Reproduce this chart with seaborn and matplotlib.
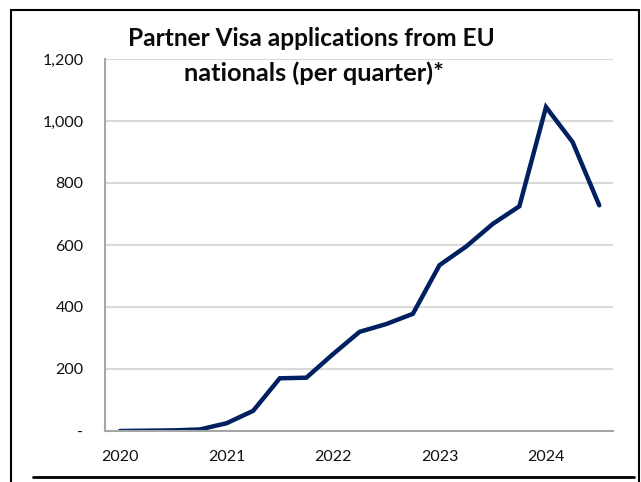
import matplotlib
matplotlib.use("Agg")
import matplotlib.pyplot as plt
import seaborn as sns
import pandas as pd
from matplotlib.lines import Line2D

# Data (quarterly, 2020 Q1 .. 2024 Q3)
years = [2020]*4 + [2021]*4 + [2022]*4 + [2023]*4 + [2024]*3
quarters = [1, 2, 3, 4]*4 + [1, 2, 3]
applications = [0, 1, 2, 5, 25, 65, 170, 172, 248, 320, 345, 378,
                535, 595, 668, 725, 1045, 932, 728]
year_ticks = [2020, 2021, 2022, 2023, 2024]
y_ticks = [0, 200, 400, 600, 800, 1000, 1200]
y_tick_labels = ["-", "200", "400", "600", "800", "1,000", "1,200"]
title_lines = ["Partner Visa applications from EU", "nationals (per quarter)*"]

df = pd.DataFrame({"year": years, "quarter": quarters, "applications": applications})
df["t"] = df["year"] + (df["quarter"] - 1) / 4

sns.set_theme(style="white")
plt.rcParams["font.family"] = ["Lato", "DejaVu Sans"]

W, H = 641, 482
fig = plt.figure(figsize=(W/100, H/100), dpi=100)
ax = fig.add_axes([105/W, 1-431/H, (613-105)/W, (431-59)/H])

sns.lineplot(data=df, x="t", y="applications", ax=ax, color="#002060",
             linewidth=3.2, solid_joinstyle="miter", solid_capstyle="round")

ax.set_xlim(2020 - 15/106.5, 2024 + 67/106.5)
ax.set_ylim(0, 1200)
ax.set_xticks(year_ticks)
ax.set_xticklabels([str(y) for y in year_ticks], fontsize=11.5, color="#111111")
ax.set_yticks(y_ticks)
ax.set_yticklabels(y_tick_labels, fontsize=11.5, color="#111111")
ax.tick_params(axis="both", length=0)
ax.tick_params(axis="y", pad=15.5)
ax.tick_params(axis="x", pad=13.5)
ax.set_xlabel("")
ax.set_ylabel("")
ax.yaxis.grid(True, color="#d9d9d9", linewidth=1.5)
ax.xaxis.grid(False)
ax.set_axisbelow(True)
for s in ["top", "right"]:
    ax.spines[s].set_visible(False)
for s in ["left", "bottom"]:
    ax.spines[s].set_color("#a6a6a6")
    ax.spines[s].set_linewidth(1.5)

# title
fig.text(311/W, 1-46/H, title_lines[0], ha="center", va="baseline",
         fontsize=17.6, fontweight="bold", color="#0a0a0a")
fig.text(314/W, 1-81/H, title_lines[1], ha="center", va="baseline",
         fontsize=18.3, fontweight="bold", color="#0a0a0a")

# frame decoration
fig.add_artist(Line2D([11/W, 11/W], [0, 1-10/H], transform=fig.transFigure, color="black", linewidth=1.5))
fig.add_artist(Line2D([11/W, 639/W], [1-10/H, 1-10/H], transform=fig.transFigure, color="black", linewidth=1.5))
fig.add_artist(Line2D([639/W, 639/W], [0, 1-10/H], transform=fig.transFigure, color="black", linewidth=1.5))
fig.add_artist(Line2D([33/W, 634/W], [1-477/H, 1-477/H], transform=fig.transFigure, color="black", linewidth=2))

fig.savefig("out.png", dpi=100)
